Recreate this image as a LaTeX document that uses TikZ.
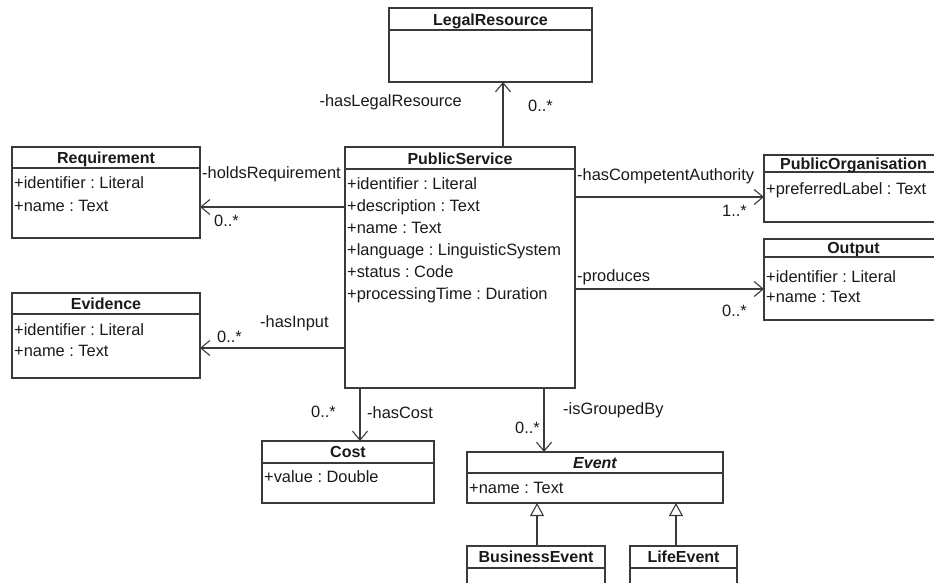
\documentclass[tikz,border=0pt]{standalone}
\usepackage{fontspec}
\setmainfont{Liberation Sans}
\usetikzlibrary{arrows.meta}
\definecolor{linec}{HTML}{3A3A3A}
\definecolor{txtc}{HTML}{1A1A1A}
\frenchspacing
\tikzset{
  cls/.style={draw=linec, line width=1.1pt, inner sep=0pt, outer sep=0pt, anchor=north west, fill=white},
  sepline/.style={draw=linec, line width=1.1pt},
  ttl/.style={font=\fontsize{16}{18}\selectfont\bfseries, text=txtc, inner sep=0pt, text height=11.5pt, text depth=0pt, anchor=center},
  att/.style={font=\fontsize{16.4}{18}\selectfont, text=txtc, inner sep=0pt, text height=11.5pt, text depth=0pt, anchor=west},
  lbl/.style={font=\fontsize{16.4}{18}\selectfont, text=txtc, inner sep=0pt, text height=11.5pt, text depth=0pt},
  assoc/.style={draw=linec, line width=1.1pt, -{Straight Barb[length=9pt,width=15pt,line width=1.1pt]}},
  gen/.style={draw=linec, line width=1.1pt, -{Triangle[open,length=13pt,width=14pt,fill=white,line width=1.1pt]}},
}
\begin{document}
\begin{tikzpicture}[x=1pt,y=-1pt]
\useasboundingbox (0,0) rectangle (934,583);
\clip (0,0) rectangle (934,583);
\fill[white] (0,0) rectangle (934,583);

% LegalResource
\node[cls, minimum width=203, minimum height=74] (lr) at (389,8) {};
\draw[sepline] (389,30) -- (592,30);
\node[ttl] (lrT) at (490.5,19.5) {LegalResource};

% Requirement
\node[cls, minimum width=188, minimum height=91] (req) at (12,147) {};
\draw[sepline] (12,168) -- (200,168);
\node[ttl] (reqT) at (106,158) {Requirement};
\node[att] (reqA1) at (14,183) {+identifier : Literal};
\node[att] (reqA2) at (14,206) {+name : Text};

% PublicService
\node[cls, minimum width=230, minimum height=241] (ps) at (345,147) {};
\draw[sepline] (345,169) -- (575,169);
\node[ttl] (psT) at (460,158.5) {PublicService};
\node[att] (psA1) at (347,184) {+identifier : Literal};
\node[att] (psA2) at (347,206) {+description : Text};
\node[att] (psA3) at (347,228) {+name : Text};
\node[att] (psA4) at (347,250) {+language : LinguisticSystem};
\node[att] (psA5) at (347,272) {+status : Code};
\node[att] (psA6) at (347,294) {+processingTime : Duration};

% PublicOrganisation
\node[cls, minimum width=179, minimum height=67] (po) at (764,155) {};
\draw[sepline] (764,172) -- (943,172);
\node[ttl] (poT) at (853.5,163.5) {PublicOrganisation};
\node[att] (poA1) at (766,189) {+preferredLabel : Text};

% Output
\node[cls, minimum width=179, minimum height=81] (out) at (764,239) {};
\draw[sepline] (764,257) -- (943,257);
\node[ttl] (outT) at (853.5,248) {Output};
\node[att] (outA1) at (766,277) {+identifier : Literal};
\node[att] (outA2) at (766,297) {+name : Text};

% Evidence
\node[cls, minimum width=188, minimum height=85] (ev) at (12,293) {};
\draw[sepline] (12,314) -- (200,314);
\node[ttl] (evT) at (106,303.5) {Evidence};
\node[att] (evA1) at (14,330) {+identifier : Literal};
\node[att] (evA2) at (14,351) {+name : Text};

% Cost
\node[cls, minimum width=172, minimum height=62] (cost) at (262,441) {};
\draw[sepline] (262,463) -- (434,463);
\node[ttl] (costT) at (348,452) {Cost};
\node[att] (costA1) at (264,477) {+value : Double};

% Event
\node[cls, minimum width=256, minimum height=51] (evt) at (467,452) {};
\draw[sepline] (467,473) -- (723,473);
\node[ttl, font=\fontsize{16}{18}\selectfont\bfseries\itshape] (evtT) at (595,462.5) {Event};
\node[att] (evtA1) at (469,488) {+name : Text};

% BusinessEvent
\node[cls, minimum width=138, minimum height=60] (be) at (467,546) {};
\draw[sepline] (467,568) -- (605,568);
\node[ttl] (beT) at (536,557) {BusinessEvent};

% LifeEvent
\node[cls, minimum width=107, minimum height=60] (le) at (630,546) {};
\draw[sepline] (630,568) -- (737,568);
\node[ttl] (leT) at (683.5,557) {LifeEvent};

% helper coordinates
\coordinate (xLR) at (503,0);
\coordinate (yReq) at (0,207);
\coordinate (yPO) at (0,197);
\coordinate (yOut) at (0,289);
\coordinate (yEv) at (0,348);
\coordinate (xCost) at (360,0);
\coordinate (xEvt) at (544,0);
\coordinate (xBE) at (537,0);
\coordinate (xLE) at (676,0);

% connectors
\draw[assoc] (ps.north -| xLR) -- (lr.south -| xLR);
\draw[assoc] (ps.west |- yReq) -- (req.east |- yReq);
\draw[assoc] (ps.east |- yPO) -- (po.west |- yPO);
\draw[assoc] (ps.east |- yOut) -- (out.west |- yOut);
\draw[assoc] (ps.west |- yEv) -- (ev.east |- yEv);
\draw[assoc] (ps.south -| xCost) -- (cost.north -| xCost);
\draw[assoc] (ps.south -| xEvt) -- (evt.north -| xEvt);
\draw[gen] (be.north -| xBE) -- (evt.south -| xBE);
\draw[gen] (le.north -| xLE) -- (evt.south -| xLE);

% labels
\node[lbl, anchor=east] (l1) at (462,101) {-hasLegalResource};
\node[lbl, anchor=west] (m1) at (528,106) {0..*};
\node[lbl, anchor=west] (l2) at (202,173) {-holdsRequirement};
\node[lbl, anchor=west] (m2) at (214,221) {0..*};
\node[lbl, anchor=west] (l3) at (577,175) {-hasCompetentAuthority};
\node[lbl, anchor=east] (m3) at (747,211) {1..*};
\node[lbl, anchor=west] (l4) at (577,276) {-produces};
\node[lbl, anchor=east] (m4) at (747,311) {0..*};
\node[lbl, anchor=west] (l5) at (260,322) {-hasInput};
\node[lbl, anchor=west] (m5) at (217,337) {0..*};
\node[lbl, anchor=east] (m6) at (336,412) {0..*};
\node[lbl, anchor=west] (l6) at (367,413) {-hasCost};
\node[lbl, anchor=west] (l7) at (563,409) {-isGroupedBy};
\node[lbl, anchor=east] (m7) at (540,428) {0..*};
\end{tikzpicture}
\end{document}
